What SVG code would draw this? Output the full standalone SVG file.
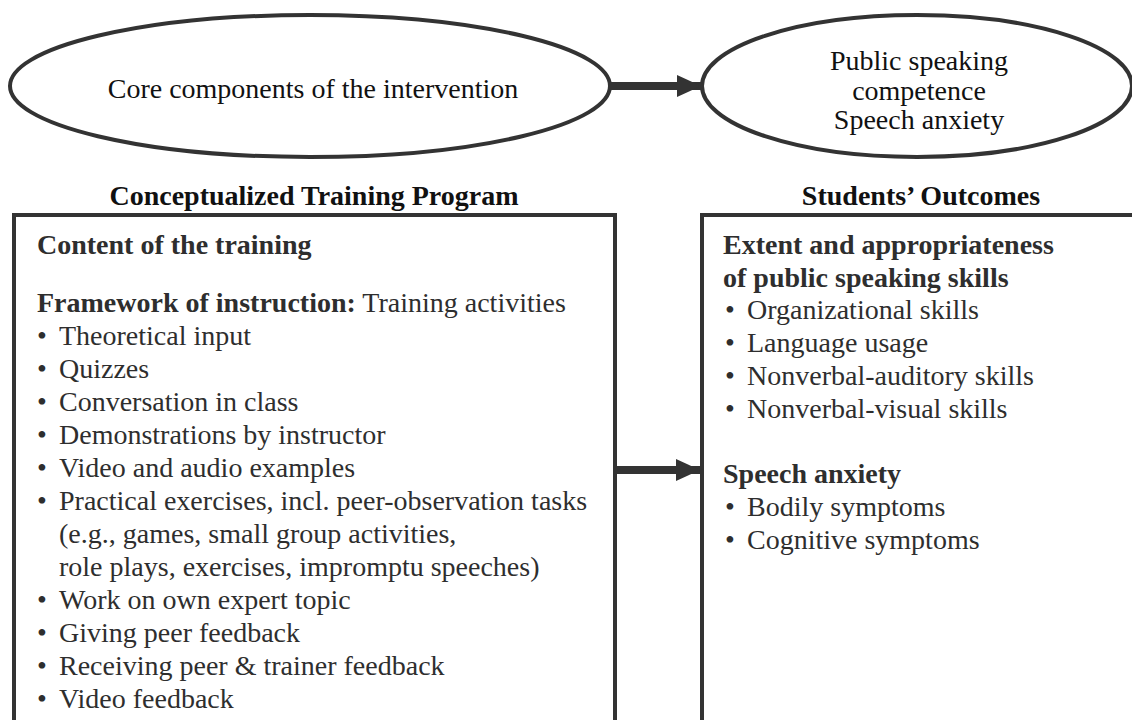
<svg xmlns="http://www.w3.org/2000/svg" width="1132" height="720" viewBox="0 0 1132 720">
  <defs>
    <marker id="head" markerWidth="24" markerHeight="22" refX="24" refY="11" orient="auto" markerUnits="userSpaceOnUse">
      <path d="M0,0 L24,11 L0,22 Z" fill="#333"/>
    </marker>
    <style>
      .shape { fill: #fff; stroke: #333; stroke-width: 4; }
      .txt { font-family: "Liberation Serif", "Times New Roman", serif; font-size: 28px; fill: #2e2e2e; }
      .b { font-weight: bold; }
      .title { font-family: "Liberation Serif", "Times New Roman", serif; font-size: 28px; font-weight: bold; fill: #111; text-anchor: middle; }
      .mid { text-anchor: middle; fill: #111; }
      .link { stroke: #333; stroke-width: 8; fill: none; }
    </style>
  </defs>
  <rect width="1132" height="720" fill="#fff"/>

  <!-- top row: intervention → competence -->
  <g id="node-core">
    <ellipse class="shape" cx="310" cy="86" rx="300" ry="71"/>
    <text class="txt mid" x="313" y="98">Core components of the intervention</text>
  </g>
  <g id="node-competence">
    <ellipse class="shape" cx="917" cy="86" rx="215" ry="71"/>
    <text class="txt mid" x="919" y="70">Public speaking</text>
    <text class="txt mid" x="919" y="100">competence</text>
    <text class="txt mid" x="919" y="129">Speech anxiety</text>
  </g>

  <!-- column headings -->
  <text class="title" x="314" y="205">Conceptualized Training Program</text>
  <text class="title" x="921" y="205">Students’ Outcomes</text>

  <!-- training program box, open at the bottom -->
  <g id="node-program">
    <path class="shape" d="M14,722 L14,215 L615,215 L615,722"/>
    <text class="txt b" x="37" y="254">Content of the training</text>
    <text class="txt" x="37" y="312"><tspan class="b">Framework of instruction:</tspan> Training activities</text>
    <g class="txt">
      <text x="37" y="345">•</text><text x="59" y="345">Theoretical input</text>
      <text x="37" y="378">•</text><text x="59" y="378">Quizzes</text>
      <text x="37" y="411">•</text><text x="59" y="411">Conversation in class</text>
      <text x="37" y="444">•</text><text x="59" y="444">Demonstrations by instructor</text>
      <text x="37" y="477">•</text><text x="59" y="477">Video and audio examples</text>
      <text x="37" y="510">•</text><text x="59" y="510">Practical exercises, incl. peer-observation tasks</text>
      <text x="59" y="543">(e.g., games, small group activities,</text>
      <text x="59" y="576">role plays, exercises, impromptu speeches)</text>
      <text x="37" y="609">•</text><text x="59" y="609">Work on own expert topic</text>
      <text x="37" y="642">•</text><text x="59" y="642">Giving peer feedback</text>
      <text x="37" y="675">•</text><text x="59" y="675">Receiving peer &amp; trainer feedback</text>
      <text x="37" y="708">•</text><text x="59" y="708">Video feedback</text>
    </g>
  </g>

  <!-- outcomes box, open at the bottom and right -->
  <g id="node-outcomes">
    <path class="shape" d="M702,722 L702,215 L1134,215"/>
    <g class="txt">
      <text class="b" x="723" y="254">Extent and appropriateness</text>
      <text class="b" x="723" y="287">of public speaking skills</text>
      <text x="725" y="319">•</text><text x="747" y="319">Organizational skills</text>
      <text x="725" y="352">•</text><text x="747" y="352">Language usage</text>
      <text x="725" y="385">•</text><text x="747" y="385">Nonverbal-auditory skills</text>
      <text x="725" y="418">•</text><text x="747" y="418">Nonverbal-visual skills</text>
      <text class="b" x="723" y="483">Speech anxiety</text>
      <text x="725" y="516">•</text><text x="747" y="516">Bodily symptoms</text>
      <text x="725" y="549">•</text><text x="747" y="549">Cognitive symptoms</text>
    </g>
  </g>

  <!-- connectors -->
  <g id="connectors">
    <line class="link" x1="610" y1="86" x2="701" y2="86" marker-end="url(#head)"/>
    <line class="link" x1="617" y1="470" x2="700" y2="470" marker-end="url(#head)"/>
  </g>
</svg>
